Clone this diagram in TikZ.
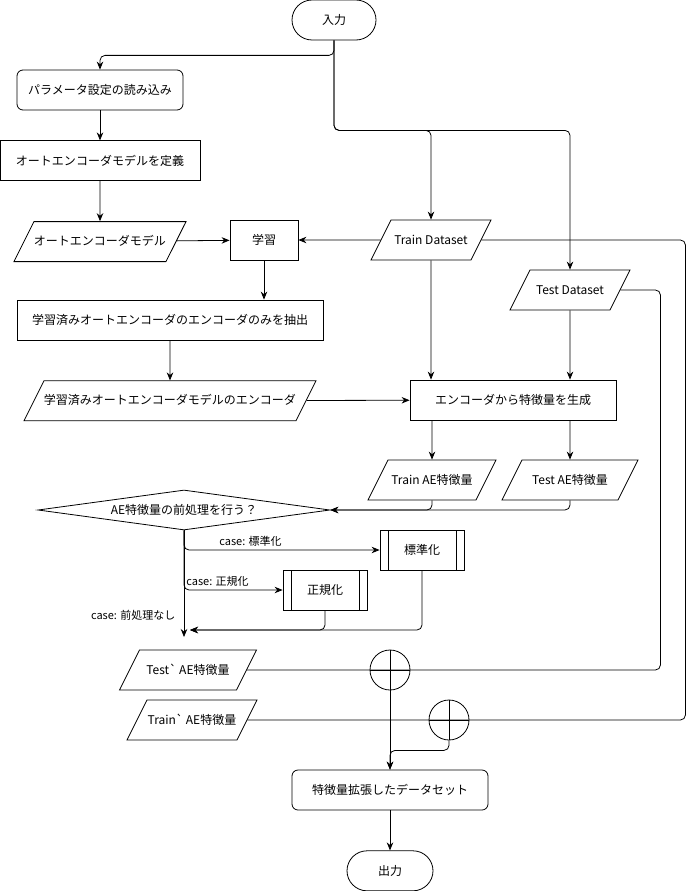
\documentclass[tikz,border=0pt]{standalone}
\usepackage{fontspec}
\setmainfont{Noto Sans CJK JP}
\usetikzlibrary{positioning,calc,shapes.geometric,arrows.meta}

\tikzstyle{term} = [rectangle, rounded corners=20pt,
minimum height=40pt,
inner sep=0pt,
draw=black, line width=0.8pt]
\tikzstyle{proc} = [rectangle,
minimum height=40pt,
inner sep=0pt,
draw=black, line width=0.8pt]
\tikzstyle{proc_round} = [proc, rounded corners=6pt]
\tikzstyle{io} = [trapezium, trapezium left angle=63.4, trapezium right angle=116.6,
trapezium stretches body,
text height=10pt, text depth=2pt,
inner xsep=0pt, inner ysep=14pt,
draw=black, line width=0.8pt]
\tikzstyle{subproc} = [proc, path picture={
\draw[line width=0.8pt] ([xshift=8pt]path picture bounding box.north west) -- ([xshift=8pt]path picture bounding box.south west)
([xshift=-8pt]path picture bounding box.north east) -- ([xshift=-8pt]path picture bounding box.south east);}]
\tikzstyle{decision} = [diamond, aspect=7, minimum width=292pt, minimum height=40pt, inner sep=0pt, draw=black, line width=0.8pt]
\tikzstyle{junction} = [circle, minimum size=40pt, inner sep=0pt, draw=black, line width=0.8pt, path picture={
\draw[line width=0.8pt] (path picture bounding box.north) -- (path picture bounding box.south)
(path picture bounding box.west) -- (path picture bounding box.east);}]
\tikzstyle{case} = [font=\fontsize{11}{13}\selectfont]
\tikzstyle{arrow} = [line width=0.8pt, rounded corners=5pt, ->, >={Stealth[length=8pt,width=6.5pt]}]
\tikzstyle{line} = [line width=0.8pt, rounded corners=5pt]

\begin{document}
\begin{tikzpicture}[x=1pt, y=-1pt, font=\fontsize{12}{14}\selectfont]
\useasboundingbox (0,0) rectangle (686,891);

% Left column
\node (input) [term, minimum width=84pt] at (334,20) {入力};
\node (param) [proc_round, minimum width=166pt] at (100,90) {パラメータ設定の読み込み};
\node (define) [proc, minimum width=200pt, below=30pt of param] {オートエンコーダモデルを定義};
\node (aemodel) [io, minimum width=160pt, below=40pt of define] {オートエンコーダモデル};
\node (learn) [proc, minimum width=68pt] at (264,240) {学習};
\node (extract) [proc, minimum width=306pt] at (170,320) {学習済みオートエンコーダのエンコーダのみを抽出};
\node (encmodel) [io, minimum width=290pt, below=40pt of extract] {学習済みオートエンコーダモデルのエンコーダ};

% Datasets
\node (train) [io, minimum width=120pt] at (431,240) {Train Dataset};
\node (test) [io, minimum width=120pt] at (570,290) {Test Dataset};
\node (gen) [proc, minimum width=206pt] at (513,400) {エンコーダから特徴量を生成};
\node (trainae) [io, minimum width=128pt] at (432,480) {Train AE特徴量};
\node (testae) [io, minimum width=136pt] at (570,480) {Test AE特徴量};

% Preprocessing
\node (dec) [decision] at (184,510) {AE特徴量の前処理を行う？};
\node (std) [subproc, minimum width=84pt] at (422,550) {標準化};
\node (nrm) [subproc, minimum width=84pt] at (325,590) {正規化};
\coordinate (none) at (184,637);
\coordinate (back) at (190,630);

% Output side
\node (testp) [io, minimum width=137pt] at (188,670) {Test\textasciigrave{} AE特徴量};
\node (trainp) [io, minimum width=130pt] at (192,720) {Train\textasciigrave{} AE特徴量};
\node (sum1) [junction] at (390,670) {};
\node (sum2) [junction] at (449,720) {};
\node (ext) [proc_round, minimum width=196pt] at (390,790) {特徴量拡張したデータセット};
\node (output) [term, minimum width=86pt, below=40pt of ext] {出力};

% From input
\draw [arrow] (input.south) -- ++(0,15) -| (param.north);
\draw [arrow] (input.south) -- ++(0,90) -| (train.north);
\draw [arrow] (input.south) -- ++(0,90) -| (test.north);

% Training
\draw [arrow] (param) -- (define);
\draw [arrow] (define) -- (aemodel);
\draw [arrow] (aemodel) -- (learn);
\draw [arrow] (train) -- (learn);
\draw [arrow] (learn) -- (learn |- extract.north);
\draw [arrow] (extract) -- (encmodel);

% Features
\draw [arrow] (encmodel) -- (gen);
\draw [arrow] (train) -- (train |- gen.north);
\draw [arrow] (test) -- (test |- gen.north);
\draw [arrow] (trainae |- gen.south) -- (trainae);
\draw [arrow] (testae |- gen.south) -- (testae);
\draw [arrow] (trainae.south) |- (dec.east);
\draw [arrow] (testae.south) |- (dec.east);

% Cases
\draw [arrow] (dec.south) |- node[case, pos=0.67, above] {case: 標準化} (std.west);
\draw [arrow] (dec.south) |- node[case, pos=0.67, above] {case: 正規化} (nrm.west);
\draw [arrow] (dec.south) -- node[case, pos=0.8, left, xshift=-5pt] {case: 前処理なし} (none);
\draw [arrow] (nrm.south) |- (back);
\draw [arrow] (std.south) |- (back);

% Joining
\draw [line] (test.east) -- ++(40,0) |- (testp.east);
\draw [line] (train.east) -- ++(204,0) |- (trainp.east);
\draw [arrow] (sum1) -- (ext);
\draw [arrow] (sum2.south) -- ++(0,10) -| (ext.north);
\draw [arrow] (ext) -- (output);

\end{tikzpicture}
\end{document}
